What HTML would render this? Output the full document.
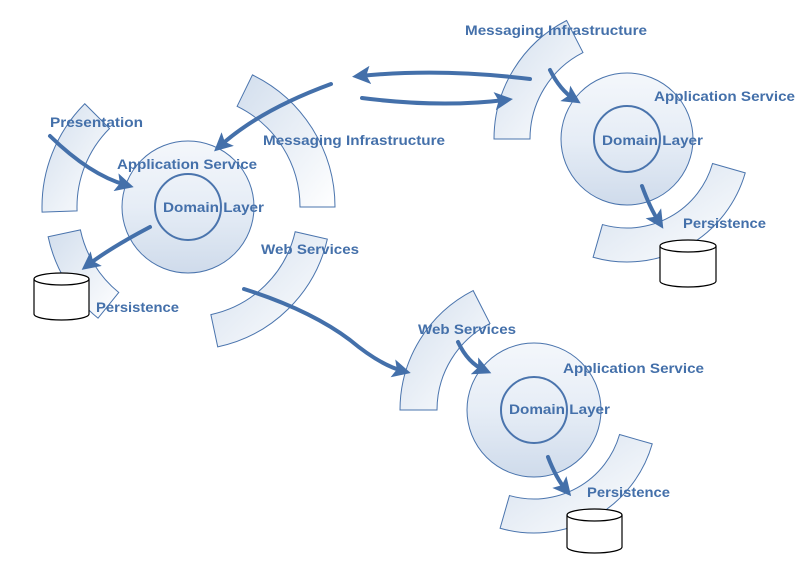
<!DOCTYPE html>
<html><head><meta charset="utf-8"><style>
html,body{margin:0;padding:0;background:#fff;width:811px;height:563px;overflow:hidden}
text{font-family:"Liberation Sans",sans-serif;font-weight:bold;font-size:14px;fill:#4470aa}
</style></head><body>
<svg id="s" width="811" height="563" viewBox="0 0 811 563" xmlns="http://www.w3.org/2000/svg">
<defs>
<linearGradient id="bg" x1="0" y1="0" x2="1" y2="1"><stop offset="0" stop-color="#d2deed"/><stop offset="1" stop-color="#ffffff"/></linearGradient>
<linearGradient id="cg" x1="0" y1="0" x2="0" y2="1"><stop offset="0" stop-color="#f4f7fb"/><stop offset="0.5" stop-color="#e6edf6"/><stop offset="1" stop-color="#cfdbeb"/></linearGradient>
<marker id="ah" markerWidth="4.6" markerHeight="4.6" refX="2.6" refY="2.3" orient="auto" markerUnits="strokeWidth"><path d="M0,0 L4.6,2.3 L0,4.6 L1,2.3 z" fill="#4470aa"/></marker>
</defs>
<g id="bands" fill="url(#bg)" stroke="#4a74ad" stroke-width="1"></g>
<g fill="url(#cg)" stroke="#4a74ad">
<circle cx="188" cy="207" r="66" stroke-width="1"/><circle cx="188" cy="207" r="33" fill="none" stroke-width="2"/>
<circle cx="627" cy="139" r="66" stroke-width="1"/><circle cx="627" cy="139" r="33" fill="none" stroke-width="2"/>
<circle cx="534" cy="410" r="67" stroke-width="1"/><circle cx="534" cy="410" r="33" fill="none" stroke-width="2"/>
</g>
<g fill="#fff" stroke="#000" stroke-width="1.2">
<path d="M34,279 L34,314 A27.5,6 0 0 0 89,314 L89,279"/><ellipse cx="61.5" cy="279" rx="27.5" ry="6"/>
<path d="M660,246 L660,281 A28,6 0 0 0 716,281 L716,246"/><ellipse cx="688" cy="246" rx="28" ry="6"/>
<path d="M567,515 L567,547 A27.5,6 0 0 0 622,547 L622,515"/><ellipse cx="594.5" cy="515" rx="27.5" ry="6"/>
</g>
<g fill="none" stroke="#4470aa" stroke-width="4" stroke-linecap="round" marker-end="url(#ah)">
<path d="M50,136 Q90,175 126,185"/>
<path d="M331,84 Q260,110 220,146"/>
<path d="M150,227 Q110,248 88,265"/>
<path d="M244,289 Q310,310 350,340 Q380,365 403,371"/>
<path d="M530,79 Q440,68 360,76"/>
<path d="M362,98 Q440,108 505,100"/>
<path d="M550,70 Q560,90 574,99"/>
<path d="M642,186 Q650,208 659,222"/>
<path d="M458,342 Q468,363 484,370"/>
<path d="M548,457 Q556,478 566,490"/>
</g>
<g>
<text x="50" y="127" textLength="93" lengthAdjust="spacingAndGlyphs">Presentation</text>
<text x="117" y="169" textLength="140" lengthAdjust="spacingAndGlyphs">Application Service</text>
<text x="163" y="212" textLength="101" lengthAdjust="spacingAndGlyphs">Domain Layer</text>
<text x="263" y="145" textLength="182" lengthAdjust="spacingAndGlyphs">Messaging Infrastructure</text>
<text x="261" y="254" textLength="98" lengthAdjust="spacingAndGlyphs">Web Services</text>
<text x="96" y="312" textLength="83" lengthAdjust="spacingAndGlyphs">Persistence</text>
<text x="465" y="35" textLength="182" lengthAdjust="spacingAndGlyphs">Messaging Infrastructure</text>
<text x="654" y="101" textLength="141" lengthAdjust="spacingAndGlyphs">Application Service</text>
<text x="602" y="145" textLength="101" lengthAdjust="spacingAndGlyphs">Domain Layer</text>
<text x="683" y="228" textLength="83" lengthAdjust="spacingAndGlyphs">Persistence</text>
<text x="418" y="334" textLength="98" lengthAdjust="spacingAndGlyphs">Web Services</text>
<text x="563" y="373" textLength="141" lengthAdjust="spacingAndGlyphs">Application Service</text>
<text x="509" y="414" textLength="101" lengthAdjust="spacingAndGlyphs">Domain Layer</text>
<text x="587" y="497" textLength="83" lengthAdjust="spacingAndGlyphs">Persistence</text>
</g>
</svg>
<script>
function band(cx,cy,ri,ro,a1,a2){
 var r=Math.PI/180,c=Math.cos,s=Math.sin;a1*=r;a2*=r;
 var lg=(a2-a1)>Math.PI?1:0;
 return "M"+(cx+ro*c(a1))+","+(cy+ro*s(a1))+" A"+ro+","+ro+" 0 "+lg+" 1 "+(cx+ro*c(a2))+","+(cy+ro*s(a2))+
 " L"+(cx+ri*c(a2))+","+(cy+ri*s(a2))+" A"+ri+","+ri+" 0 "+lg+" 0 "+(cx+ri*c(a1))+","+(cy+ri*s(a1))+" Z";
}
var B=[[188,207,111,146,178,225],[188,207,112,147,-64,0],[188,207,110,143,129,168],[188,207,110,143,13,78],
[627,139,97,133,180,243],[627,139,89,123,16,106],
[534,410,97,134,180,243],[534,410,89,123,16,106]];
var g=document.getElementById("bands"),h="";
B.forEach(function(b){h+='<path d="'+band.apply(null,b)+'"/>';});
g.innerHTML=h;
</script>
</body></html>
